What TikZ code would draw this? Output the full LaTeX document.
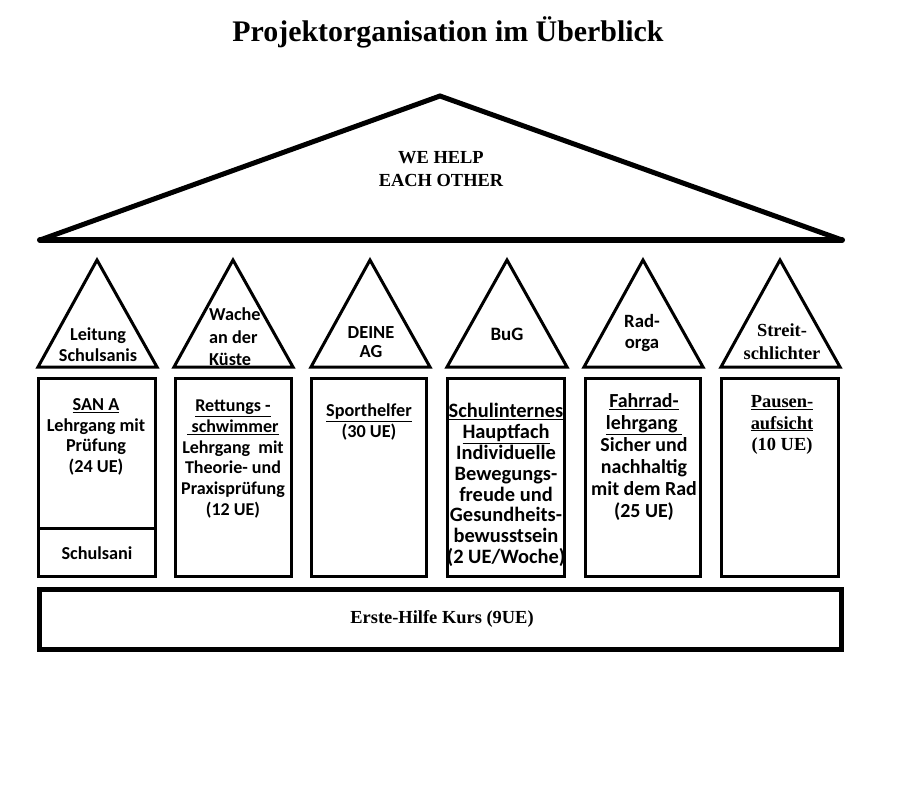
\documentclass[tikz,border=0pt]{standalone}
\usepackage{fontspec}
\setmainfont{Liberation Serif}
\newfontfamily\carl{Carlito}
\begin{document}
\begin{tikzpicture}[x=1bp,y=-1bp,
  tri/.style={line width=3bp, line join=miter},
  pillar/.style={line width=3bp},
  roofline/.style={line width=5bp, line join=miter, line cap=round},
  ctext/.style={inner sep=0, align=center, font=\carl\bfseries\fontsize{18.3}{20.8}\selectfont},
  stext/.style={inner sep=0, align=center, font=\bfseries\fontsize{18.5}{22}\selectfont}]
\useasboundingbox (0,0) rectangle (923,791);
\fill[white] (0,0) rectangle (923,791);

% title
\node[inner sep=0, font=\bfseries\fontsize{30}{34}\selectfont] (title) at (448,32) {Projektorganisation im Überblick};

% roof
\draw[roofline] (40,240) -- (440,96) -- (842,240);
\draw[line width=6bp, line cap=round] (40,240) -- (842,240);
\node[stext, font=\bfseries\fontsize{18.5}{23}\selectfont] (roof) at (441,169) {WE HELP\\EACH OTHER};

% small triangles
\draw[tri] (38,367) -- (97,260) -- (157,367) -- cycle;
\draw[tri] (174,367) -- (233,260) -- (293,367) -- cycle;
\draw[tri] (311,367) -- (370,260) -- (430,367) -- cycle;
\draw[tri] (447,367) -- (507,260) -- (567,367) -- cycle;
\draw[tri] (584,367) -- (643,260) -- (703,367) -- cycle;
\draw[tri] (721,367) -- (780,260) -- (840,367) -- cycle;

\node[ctext] (t1) at (98,345) {Leitung\\Schulsanis};
\node[ctext, align=left, anchor=west, font=\carl\bfseries\fontsize{18.3}{22.5}\selectfont] (t2) at (209,337) {Wache\\an der\\Küste};
\node[ctext, font=\carl\bfseries\fontsize{18.5}{19.5}\selectfont] (t3) at (371,342) {DEINE\\AG};
\node[ctext, font=\carl\bfseries\fontsize{19}{20}\selectfont] (t4) at (507,334) {BuG};
\node[ctext, font=\carl\bfseries\fontsize{18.8}{22}\selectfont] (t5) at (642,333) {Rad-\\orga};
\node[stext, font=\bfseries\fontsize{18.5}{23}\selectfont] (t6) at (782,342) {Streit-\\schlichter};

% pillars
\draw[pillar] (38.5,378.5) rectangle (155.5,576.5);
\draw[pillar] (38.5,528) -- (155.5,528);
\draw[pillar] (175.5,378.5) rectangle (291.5,576.5);
\draw[pillar] (311.5,378.5) rectangle (426.5,576.5);
\draw[line width=3.5bp] (447.5,378.5) rectangle (564.5,576.5);
\draw[pillar] (585.5,378.5) rectangle (700.5,576.5);
\draw[pillar] (721.5,378.5) rectangle (838.5,576.5);

\node[ctext] (p1) at (96,437) {\underline{SAN A}\\Lehrgang mit\\Prüfung\\(24 UE)};
\node[ctext] (p1b) at (97,553) {Schulsani};
\node[ctext, font=\carl\bfseries\fontsize{18.1}{20.9}\selectfont] (p2) at (233,459) {\underline{Rettungs -}\\\underline{\ schwimmer}\\Lehrgang\ \ mit\\Theorie- und\\Praxisprüfung\\(12 UE)};
\node[ctext] (p3) at (369,422) {\underline{Sporthelfer}\\(30 UE)};
\node[ctext, font=\carl\bfseries\fontsize{20.5}{20.9}\selectfont] (p4) at (506,485) {\underline{Schulinternes}\\\underline{Hauptfach}\\Individuelle\\Bewegungs-\\freude und\\Gesundheits-\\bewusstsein\\(2 UE/Woche)};
\node[ctext, font=\carl\bfseries\fontsize{20}{22}\selectfont] (p5) at (644,457) {\underline{Fahrrad-}\\\underline{lehrgang\ }\\Sicher und\\nachhaltig\\mit dem Rad\\(25 UE)};
\node[stext, font=\bfseries\fontsize{18.5}{21.5}\selectfont] (p6) at (782,425) {\underline{Pausen-}\\\underline{aufsicht}\\(10 UE)};

% foundation
\draw[line width=5bp] (39.5,589.5) rectangle (841.5,649.5);
\node[stext] (base) at (442,619) {Erste-Hilfe Kurs (9UE)};
\end{tikzpicture}
\end{document}
